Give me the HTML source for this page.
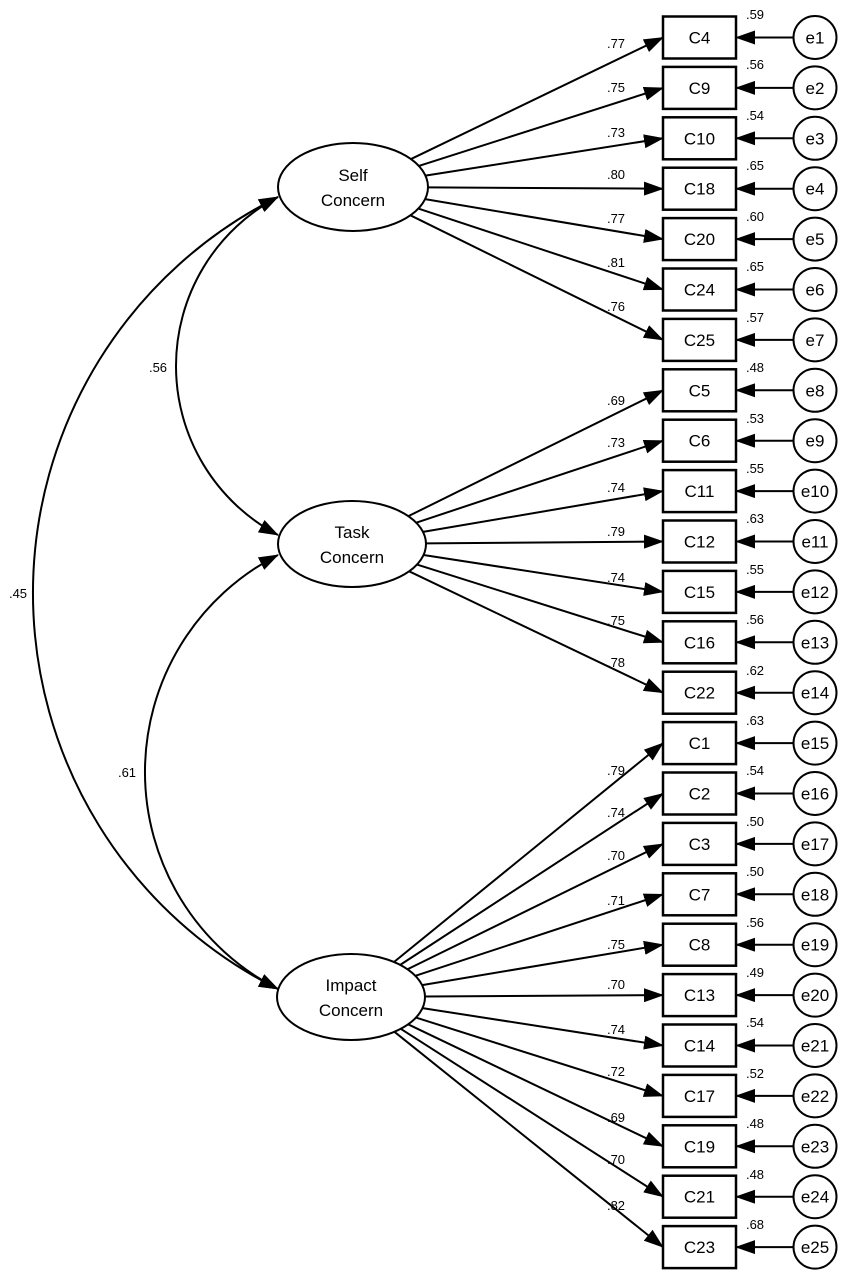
<!DOCTYPE html>
<html><head><meta charset="utf-8"><style>
html,body{margin:0;padding:0;background:#fff;}
svg{display:block;font-family:"Liberation Sans",Arial,sans-serif;}
.b{font-size:17px;}
.s{font-size:13px;}
</style></head><body>
<svg id="g" width="850" height="1283" viewBox="0 0 850 1283" xmlns="http://www.w3.org/2000/svg">
<defs>
<marker id="ah" markerUnits="userSpaceOnUse" markerWidth="20" markerHeight="14" refX="19" refY="7" orient="auto-start-reverse">
<path d="M0,0 L20,7 L0,14 Z" fill="#000"/>
</marker>
</defs>
<g id="lines" stroke="#000" stroke-width="2" fill="none"></g>
<!-- covariance arcs -->
<g stroke="#000" stroke-width="2" fill="none">
<path d="M278,197 A191,191 0 0 0 278,535" marker-start="url(#ah)" marker-end="url(#ah)"/>
<path d="M278,555 A243.5,243.5 0 0 0 278,989" marker-start="url(#ah)" marker-end="url(#ah)"/>
<path d="M278,197 A442.5,442.5 0 0 0 278,989" marker-start="url(#ah)" marker-end="url(#ah)"/>
</g>
<g stroke="#000" stroke-width="2" fill="#fff">
<ellipse cx="353" cy="187" rx="75" ry="44"/>
<ellipse cx="352" cy="544" rx="74" ry="43"/>
<ellipse cx="351" cy="997" rx="74" ry="43"/>
</g>
<g class="b" text-anchor="middle">
<text x="353" y="181">Self</text><text x="353" y="206">Concern</text>
<text x="352" y="538">Task</text><text x="352" y="563">Concern</text>
<text x="351" y="991">Impact</text><text x="351" y="1016">Concern</text>
</g>
<g class="s" text-anchor="middle">
<text x="158" y="372">.56</text>
<text x="127" y="777">.61</text>
<text x="18" y="598">.45</text>
</g>
<g id="boxes"></g>
<g class="b" text-anchor="middle" id="bl">
<text x="699.5" y="43.5">C4</text><text x="815" y="43.5">e1</text>
<text x="699.5" y="93.9">C9</text><text x="815" y="93.9">e2</text>
<text x="699.5" y="144.3">C10</text><text x="815" y="144.3">e3</text>
<text x="699.5" y="194.7">C18</text><text x="815" y="194.7">e4</text>
<text x="699.5" y="245.1">C20</text><text x="815" y="245.1">e5</text>
<text x="699.5" y="295.5">C24</text><text x="815" y="295.5">e6</text>
<text x="699.5" y="345.9">C25</text><text x="815" y="345.9">e7</text>
<text x="699.5" y="396.3">C5</text><text x="815" y="396.3">e8</text>
<text x="699.5" y="446.7">C6</text><text x="815" y="446.7">e9</text>
<text x="699.5" y="497.1">C11</text><text x="815" y="497.1">e10</text>
<text x="699.5" y="547.5">C12</text><text x="815" y="547.5">e11</text>
<text x="699.5" y="597.9">C15</text><text x="815" y="597.9">e12</text>
<text x="699.5" y="648.3">C16</text><text x="815" y="648.3">e13</text>
<text x="699.5" y="698.7">C22</text><text x="815" y="698.7">e14</text>
<text x="699.5" y="749.1">C1</text><text x="815" y="749.1">e15</text>
<text x="699.5" y="799.5">C2</text><text x="815" y="799.5">e16</text>
<text x="699.5" y="849.9">C3</text><text x="815" y="849.9">e17</text>
<text x="699.5" y="900.3">C7</text><text x="815" y="900.3">e18</text>
<text x="699.5" y="950.7">C8</text><text x="815" y="950.7">e19</text>
<text x="699.5" y="1001.1">C13</text><text x="815" y="1001.1">e20</text>
<text x="699.5" y="1051.5">C14</text><text x="815" y="1051.5">e21</text>
<text x="699.5" y="1101.9">C17</text><text x="815" y="1101.9">e22</text>
<text x="699.5" y="1152.3">C19</text><text x="815" y="1152.3">e23</text>
<text x="699.5" y="1202.7">C21</text><text x="815" y="1202.7">e24</text>
<text x="699.5" y="1253.1">C23</text><text x="815" y="1253.1">e25</text>
</g>
<g class="s" text-anchor="middle">
<text x="616" y="48">.77</text><text x="755" y="19">.59</text>
<text x="616" y="92">.75</text><text x="755" y="69">.56</text>
<text x="616" y="137">.73</text><text x="755" y="120">.54</text>
<text x="616" y="179">.80</text><text x="755" y="170">.65</text>
<text x="616" y="223">.77</text><text x="755" y="221">.60</text>
<text x="616" y="267">.81</text><text x="755" y="271">.65</text>
<text x="616" y="311">.76</text><text x="755" y="322">.57</text>
<text x="616" y="405">.69</text><text x="755" y="372">.48</text>
<text x="616" y="447">.73</text><text x="755" y="423">.53</text>
<text x="616" y="492">.74</text><text x="755" y="473">.55</text>
<text x="616" y="536">.79</text><text x="755" y="523">.63</text>
<text x="616" y="582">.74</text><text x="755" y="574">.55</text>
<text x="616" y="625">.75</text><text x="755" y="624">.56</text>
<text x="616" y="667">.78</text><text x="755" y="675">.62</text>
<text x="616" y="775">.79</text><text x="755" y="725">.63</text>
<text x="616" y="817">.74</text><text x="755" y="775">.54</text>
<text x="616" y="860">.70</text><text x="755" y="826">.50</text>
<text x="616" y="905">.71</text><text x="755" y="876">.50</text>
<text x="616" y="949">.75</text><text x="755" y="927">.56</text>
<text x="616" y="989">.70</text><text x="755" y="977">.49</text>
<text x="616" y="1034">.74</text><text x="755" y="1027">.54</text>
<text x="616" y="1076">.72</text><text x="755" y="1078">.52</text>
<text x="616" y="1122">.69</text><text x="755" y="1128">.48</text>
<text x="616" y="1164">.70</text><text x="755" y="1179">.48</text>
<text x="616" y="1210">.82</text><text x="755" y="1229">.68</text>
</g>
</svg>
<script>
(function(){
var NS="http://www.w3.org/2000/svg";
var L=document.getElementById("lines"), B=document.getElementById("boxes");
var lat=[[353,187,75,44],[352,544,74,43],[351,997,74,43]];
function el(t,a,p){var e=document.createElementNS(NS,t);for(var k in a)e.setAttribute(k,a[k]);p.appendChild(e);return e;}
for(var i=0;i<25;i++){
 var y=37.5+50.4*i;
 var li=i<7?0:(i<14?1:2), c=lat[li];
 var dx=663-c[0], dy=y-c[1];
 var t=1/Math.sqrt(dx*dx/(c[2]*c[2])+dy*dy/(c[3]*c[3]));
 el("line",{x1:c[0]+dx*t,y1:c[1]+dy*t,x2:663,y2:y,"marker-end":"url(#ah)"},L);
 el("line",{x1:793.5,y1:y,x2:736,y2:y,"marker-end":"url(#ah)"},L);
 el("rect",{x:663,y:y-21,width:73,height:42,fill:"#fff",stroke:"#000","stroke-width":2.5},B);
 el("circle",{cx:815,cy:y,r:21.5,fill:"#fff",stroke:"#000","stroke-width":2},B);
}
})();
</script>
</body></html>
